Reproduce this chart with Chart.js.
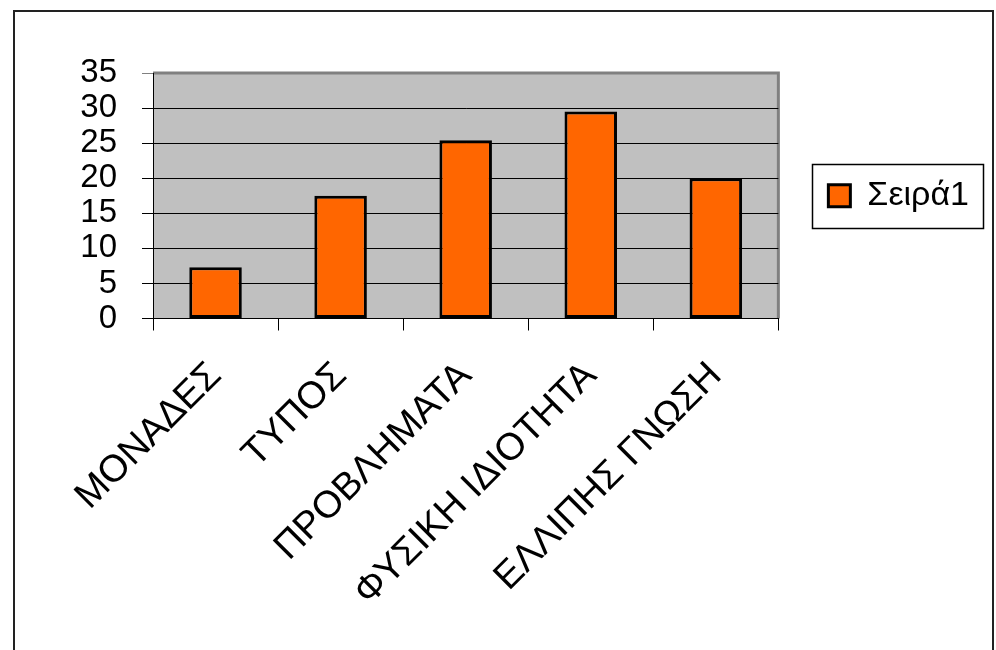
<!DOCTYPE html>
<html>
<head>
<meta charset="utf-8">
<script src="https://cdn.jsdelivr.net/npm/chart.js@4.4.1/dist/chart.umd.min.js"></script>
<style>
  html, body { margin: 0; padding: 0; background: #fff; }
  #wrap { width: 996px; height: 650px; }
</style>
</head>
<body>
<div id="wrap"><canvas id="c" width="996" height="650"></canvas></div>
<script>
// Categories along the x axis
const categories = ['ΜΟΝΑΔΕΣ', 'ΤΥΠΟΣ', 'ΠΡΟΒΛΗΜΑΤΑ', 'ΦΥΣΙΚΗ ΙΔΙΟΤΗΤΑ', 'ΕΛΛΙΠΗΣ ΓΝΩΣΗ'];
// Single series
const seriesName = 'Σειρά1';
const seriesValues = [7.3, 17.5, 25.4, 29.5, 20];
// Value axis range and step
const yMin = 0;
const yMax = 35;
const yStep = 5;

const FONT = "'Liberation Sans', Arial, sans-serif";

// Grey plot background, plot border, outer frame and legend box
const framePlugin = {
  id: 'frame',
  beforeDraw(chart) {
    const { ctx, chartArea: a } = chart;
    ctx.save();
    ctx.fillStyle = '#ffffff';
    ctx.fillRect(0, 0, chart.width, chart.height);
    ctx.fillStyle = '#C0C0C0';
    ctx.fillRect(a.left, a.top, a.right - a.left, a.bottom - a.top);
    ctx.strokeStyle = '#808080';
    ctx.lineWidth = 3;
    ctx.beginPath();
    ctx.moveTo(a.left, a.top);
    ctx.lineTo(a.right, a.top);
    ctx.lineTo(a.right, a.bottom);
    ctx.stroke();
    ctx.restore();
  },
  afterDraw(chart) {
    const { ctx } = chart;
    ctx.save();
    // outer frame
    ctx.strokeStyle = '#222';
    ctx.lineWidth = 2;
    ctx.strokeRect(14, 11, 979, 660);
    // legend box
    const hb = chart.legend && chart.legend.legendHitBoxes && chart.legend.legendHitBoxes[0];
    if (hb) {
      const cy = hb.top + hb.height / 2;
      ctx.strokeStyle = '#000';
      ctx.lineWidth = 1.5;
      ctx.strokeRect(Math.round(hb.left - 16) + 0.5, Math.round(cy - 32) + 0.5,
                     Math.round(hb.width + 30), 64);
    }
    ctx.restore();
  }
};

new Chart(document.getElementById('c'), {
  type: 'bar',
  data: {
    labels: categories,
    datasets: [{
      label: seriesName,
      data: seriesValues,
      backgroundColor: '#FF6600',
      borderColor: '#000000',
      borderWidth: 3,
      borderSkipped: false,
      categoryPercentage: 1,
      barPercentage: 0.42
    }]
  },
  options: {
    responsive: false,
    animation: false,
    events: [],
    layout: { padding: { left: 0, top: 73, right: 17, bottom: 0 } },
    plugins: {
      title: { display: false },
      tooltip: { enabled: false },
      legend: {
        position: 'right',
        fullSize: false,
        align: 'center',
        labels: {
          boxWidth: 22,
          boxHeight: 22,
          padding: 50,
          color: '#000',
          font: { family: FONT, size: 34 }
        }
      }
    },
    scales: {
      x: {
        offset: true,
        grid: {
          display: true,
          offset: true,
          drawOnChartArea: false,
          drawTicks: true,
          tickLength: 12,
          color: '#000',
          lineWidth: 1
        },
        border: { display: true, color: '#000', width: 1 },
        ticks: {
          minRotation: 45,
          maxRotation: 45,
          autoSkip: false,
          padding: 23,
          color: '#000',
          font: { family: FONT, size: 38 }
        },
        afterFit(scale) { scale.height = 650 - 318.5; }
      },
      y: {
        min: yMin,
        max: yMax,
        grid: {
          color: (c) => (c.tick && c.tick.value === yMax ? '#808080' : '#000'),
          lineWidth: 1,
          tickLength: 11,
          drawTicks: true
        },
        border: { display: true, color: '#000', width: 1 },
        ticks: {
          stepSize: yStep,
          autoSkip: false,
          padding: 25,
          color: '#000',
          font: { family: FONT, size: 33 }
        },
        afterFit(scale) { scale.width = 153; }
      }
    }
  },
  plugins: [framePlugin]
});
</script>
</body>
</html>
